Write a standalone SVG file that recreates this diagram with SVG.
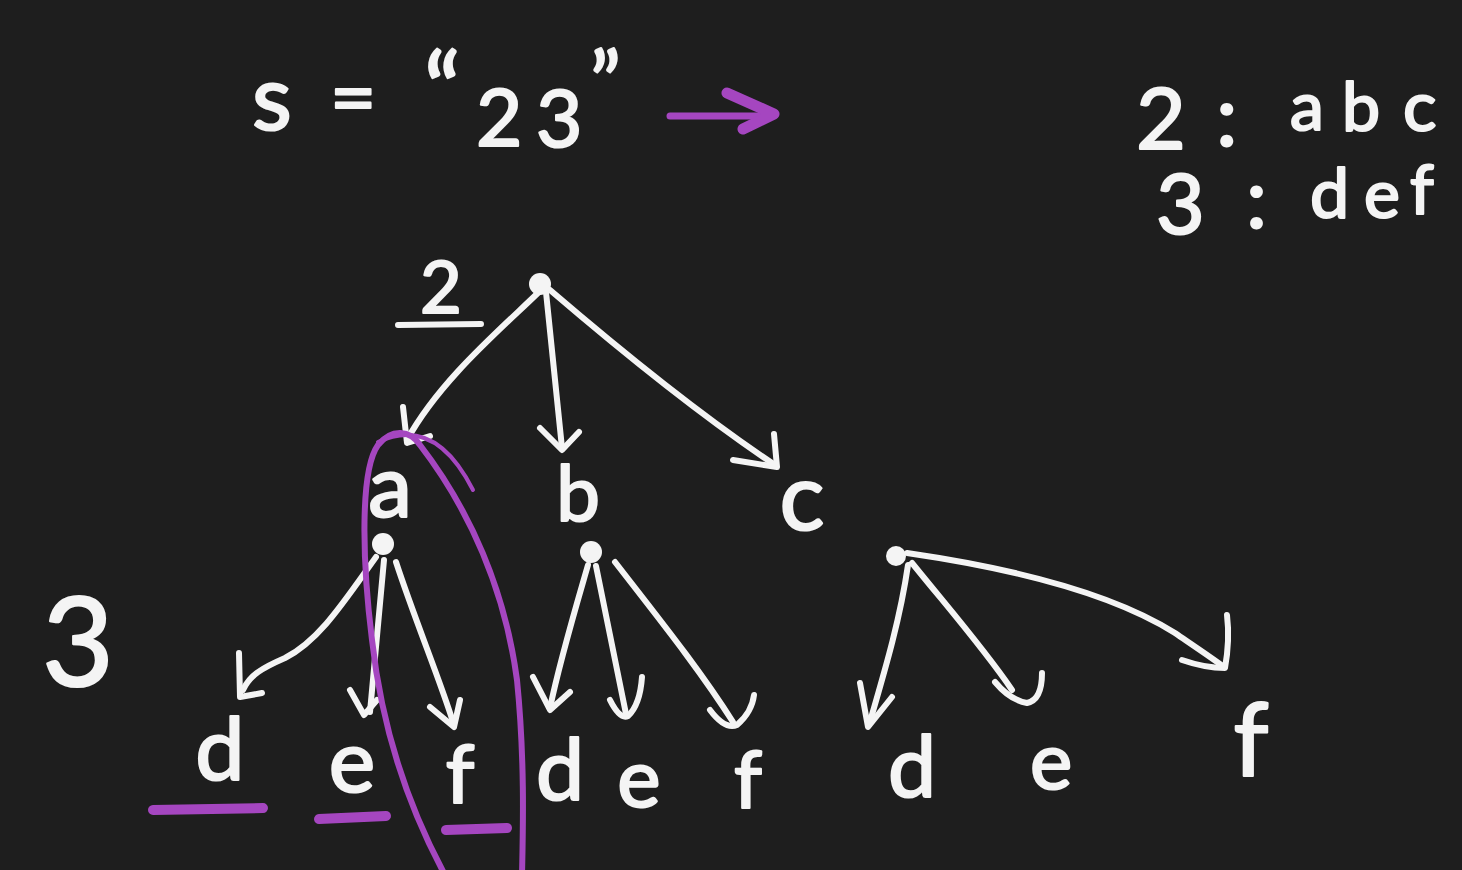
<svg xmlns="http://www.w3.org/2000/svg" width="1462" height="870" viewBox="0 0 1462 870">
<style>
.bg{fill:#1e1e1e}
.w{fill:none;stroke:#f4f4f4;stroke-width:6;stroke-linecap:round;stroke-linejoin:round}
.p{fill:none;stroke:#a546c0;stroke-linecap:round;stroke-linejoin:round}
.dot{fill:#f4f4f4}
.t{fill:#f4f4f4;stroke:#f4f4f4;stroke-width:2.2;stroke-linejoin:round;font-family:Lato,"Open Sans",sans-serif;font-weight:400}
</style>
<rect class="bg" x="0" y="0" width="1462" height="870"/>

<g id="title">
<text class="t" font-size="92" x="252" y="130">s</text>
<text class="t" font-size="80" x="330" y="126">=</text>
<text class="t" font-size="80"><tspan x="424" y="126" font-size="100">“</tspan><tspan x="476" y="146">2</tspan><tspan x="536" y="147">3</tspan><tspan x="590" y="112" font-size="84">”</tspan></text>
<path class="p" stroke-width="7" d="M670,116 L770,116"/>
<path class="p" stroke-width="11" d="M727,93 L774,114 L743,129"/>
</g>

<g id="legend">
<text class="t" font-size="86"><tspan x="1136" y="149">2</tspan><tspan x="1216" y="146">:</tspan><tspan x="1290" y="130" font-size="68">a</tspan><tspan x="1342" y="131" font-size="68">b</tspan><tspan x="1403" y="131" font-size="70">c</tspan></text>
<text class="t" font-size="84"><tspan x="1156" y="234">3</tspan><tspan x="1246" y="228">:</tspan><tspan x="1310" y="218" font-size="70">d</tspan><tspan x="1364" y="218" font-size="68">e</tspan><tspan x="1410" y="214" font-size="68">f</tspan></text>
</g>

<g id="level2-label">
<text class="t" font-size="72" x="420" y="313">2</text>
<path class="w" stroke-width="10" d="M398,325 L481,324"/>
</g>
<g id="level3-label">
<text class="t" font-size="124" x="42" y="686">3</text>
</g>

<g id="connectors">
<path class="w" d="M541,290 C 500,330 440,380 407,440"/>
<path class="w" d="M403,407 L407,443 L430,436"/>
<path class="w" d="M546,292 L562,448"/>
<path class="w" d="M540,428 L562,450 L579,432"/>
<path class="w" stroke-width="7" d="M550,290 C 620,350 700,415 775,465"/>
<path class="w" stroke-width="7" d="M733,460 L777,467 L774,434"/>

<path class="w" d="M376,557 C 345,600 320,640 285,658 C 262,668 250,675 243,690"/>
<path class="w" d="M239,653 L240,697 L262,693"/>
<path class="w" d="M384,560 L370,712"/>
<path class="w" d="M350,690 L364,715 L377,700"/>
<path class="w" d="M396,562 C 415,620 440,680 453,722"/>
<path class="w" d="M430,707 L454,727 L460,700"/>

<path class="w" d="M588,565 C 575,610 560,660 550,708"/>
<path class="w" d="M533,677 L550,710 L570,692"/>
<path class="w" d="M596,566 L626,714"/>
<path class="w" d="M610,700 Q620,720 628,716 Q640,705 642,677"/>
<path class="w" d="M615,562 C 660,620 700,670 733,722"/>
<path class="w" d="M710,710 Q725,730 737,725 Q752,712 754,695"/>

<path class="w" d="M908,565 C 900,620 885,670 869,725"/>
<path class="w" d="M860,683 L868,727 L892,697"/>
<path class="w" d="M912,563 C 950,610 985,650 1012,690"/>
<path class="w" d="M995,682 Q1010,700 1027,703 Q1042,700 1042,673"/>
<path class="w" stroke-width="7" d="M907,553 C 1010,568 1110,592 1175,633 C 1200,650 1215,660 1224,667"/>
<path class="w" stroke-width="7" d="M1182,660 Q1205,668 1225,668 Q1230,640 1227,615"/>
</g>

<g id="node-root"><circle class="dot" cx="540" cy="284" r="11"/></g>
<g id="node-a"><text class="t" font-size="88" x="390" y="517" text-anchor="middle">a</text><circle class="dot" cx="383" cy="544" r="11"/></g>
<g id="node-b"><text class="t" font-size="78" x="578" y="521" text-anchor="middle">b</text><circle class="dot" cx="591" cy="552" r="11"/></g>
<g id="node-c"><text class="t" font-size="94" x="802" y="530" text-anchor="middle">c</text><circle class="dot" cx="896" cy="556" r="10"/></g>

<g id="node-ad"><text class="t" font-size="88" x="220" y="780" text-anchor="middle">d</text></g>
<g id="node-ae"><text class="t" font-size="88" x="352" y="792" text-anchor="middle">e</text></g>
<g id="node-af"><text class="t" font-size="82" x="460" y="803" text-anchor="middle">f</text></g>
<g id="node-bd"><text class="t" font-size="86" x="560" y="800" text-anchor="middle">d</text></g>
<g id="node-be"><text class="t" font-size="82" x="639" y="807" text-anchor="middle">e</text></g>
<g id="node-bf"><text class="t" font-size="80" x="748" y="808" text-anchor="middle">f</text></g>
<g id="node-cd"><text class="t" font-size="86" x="912" y="797" text-anchor="middle">d</text></g>
<g id="node-ce"><text class="t" font-size="80" x="1051" y="789" text-anchor="middle">e</text></g>
<g id="node-cf"><text class="t" font-size="100" x="1251" y="776" text-anchor="middle">f</text></g>

<g id="highlights">
<path class="p" stroke-width="6" d="M445,875 C 410,810 382,730 372,640 C 362,560 360,470 378,445 C 392,428 410,430 420,445 C 470,510 505,590 517,680 C 525,760 523,830 522,875"/>
<path class="p" stroke-width="4" d="M378,442 Q 435,415 473,490"/>
<path class="p" stroke-width="10" d="M153,810 L263,808"/>
<path class="p" stroke-width="10" d="M319,819 L386,816"/>
<path class="p" stroke-width="10" d="M446,830 L507,828"/>
</g>
</svg>
